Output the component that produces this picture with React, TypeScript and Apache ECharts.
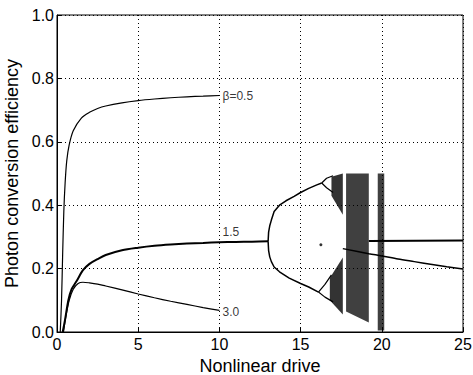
import React, { useEffect, useRef } from "react";
import * as echarts from "echarts";

// Curves [x, y]
const curveBeta05: number[][] = [
  [0.2, 0], [0.28, 0.1], [0.35, 0.25], [0.42, 0.38], [0.5, 0.47], [0.6, 0.54], [0.75, 0.59],
  [1.0, 0.635], [1.5, 0.675], [2, 0.693], [2.5, 0.705], [3, 0.713], [4, 0.723], [5, 0.73],
  [6, 0.735], [7, 0.739], [8, 0.742], [9, 0.744], [10, 0.746],
];
const curveBeta15: number[][] = [
  [0.35, 0], [0.5, 0.04], [0.7, 0.1], [0.9, 0.135], [1.2, 0.16], [1.6, 0.195], [2, 0.215],
  [2.5, 0.23], [3, 0.243], [4, 0.258], [5, 0.266], [6, 0.272], [7, 0.276], [8, 0.279],
  [9, 0.281], [10, 0.283], [11, 0.284], [12, 0.285], [13, 0.286],
];
const curveBeta30: number[][] = [
  [0.4, 0], [0.55, 0.05], [0.75, 0.1], [1.0, 0.135], [1.3, 0.153], [1.6, 0.157], [2, 0.155],
  [2.5, 0.151], [3, 0.145], [4, 0.133], [5, 0.12], [6, 0.108], [7, 0.097], [8, 0.087],
  [9, 0.077], [10, 0.068],
];
// Bifurcation branches
const upperBranch: number[][] = [
  [13.0, 0.286], [13.03, 0.315], [13.1, 0.335], [13.2, 0.353], [13.37, 0.38], [13.7, 0.4],
  [14.1, 0.414], [14.6, 0.428], [15, 0.44], [15.5, 0.453], [16, 0.464], [16.3, 0.47],
];
const lowerBranch: number[][] = [
  [13.0, 0.286], [13.03, 0.257], [13.1, 0.237], [13.2, 0.222], [13.37, 0.205], [13.7, 0.19],
  [14.3, 0.17], [15, 0.153], [15.5, 0.142], [16.1, 0.126],
];
const upperSplitA: number[][] = [[16.3, 0.47], [16.6, 0.485], [17.0, 0.493]];
const upperSplitB: number[][] = [[16.3, 0.47], [16.6, 0.455], [17.0, 0.44]];
const lowerSplitA: number[][] = [[16.1, 0.126], [16.5, 0.15], [16.9, 0.18]];
const lowerSplitB: number[][] = [[16.1, 0.126], [16.5, 0.11], [17.0, 0.095]];
const strayPoint: number[][] = [[16.25, 0.275]];
const fixedAfter: number[][] = [[19.2, 0.287], [25, 0.289]];
const slopedAfter: number[][] = [
  [17.6, 0.263], [19.2, 0.247], [20, 0.24], [21, 0.23], [22, 0.222], [23, 0.214], [24, 0.206], [25, 0.199],
];
// Chaotic bands (polygon outlines)
const bandUpperSmall: number[][] = [[16.9, 0.49], [17.6, 0.5], [17.6, 0.37], [16.9, 0.43]];
const bandLowerSmall: number[][] = [[16.8, 0.17], [17.6, 0.235], [17.6, 0.055], [16.8, 0.1]];
const bandBig: number[][] = [[17.8, 0.5], [19.2, 0.5], [19.2, 0.03], [17.8, 0.065]];
const bandTwenty: number[][] = [[19.75, 0.5], [20.15, 0.5], [20.15, 0.005], [19.75, 0.005]];

const labelPoints: number[][] = [[10.1, 0.745], [10.1, 0.315], [10.1, 0.063]];
const labelTexts: string[] = ["β=0.5", "1.5", "3.0"];

const FONT = "Liberation Sans, Arial, Helvetica, sans-serif";

function lineSeries(data: number[][], width: number, smooth: number | boolean = 0.3) {
  return {
    type: "line",
    data,
    showSymbol: false,
    symbol: "none",
    smooth,
    lineStyle: { color: "#000", width },
    silent: true,
    z: 4,
  };
}

function bandSeries(band: number[][], opacity: number) {
  return {
    type: "custom",
    data: band,
    encode: { x: 0, y: 1 },
    silent: true,
    z: 3,
    renderItem: (params: any, api: any) => {
      if (params.dataIndex !== 0) return null;
      return {
        type: "polygon",
        shape: { points: band.map((p) => api.coord(p)) },
        style: { fill: `rgba(0,0,0,${opacity})` },
      };
    },
  };
}

export default function App() {
  const ref = useRef<HTMLDivElement>(null);
  useEffect(() => {
    document.body.style.margin = "0";
    const chart = echarts.init(ref.current!, null, { renderer: "svg" });
    const option: any = {
      animation: false,
      backgroundColor: "#fff",
      grid: {
        left: 57, right: 10, top: 15, bottom: 43,
        outerBoundsMode: "none", containLabel: false,
        show: true, borderColor: "#000", borderWidth: 1, backgroundColor: "transparent",
      },
      xAxis: {
        type: "value",
        min: 0,
        max: 25,
        interval: 5,
        name: "Nonlinear drive",
        nameLocation: "middle",
        nameGap: 25,
        nameTextStyle: { color: "#000", fontSize: 18, fontFamily: FONT },
        axisLine: { show: true, lineStyle: { color: "#000", width: 1 } },
        axisTick: { show: true, inside: true, length: 4, lineStyle: { color: "#000" } },
        axisLabel: { color: "#000", fontSize: 16, fontFamily: FONT, margin: 4 },
        splitLine: { show: true, lineStyle: { color: "#000", width: 1, type: [1, 3] } },
      },
      yAxis: {
        type: "value",
        min: 0,
        max: 1,
        interval: 0.2,
        name: "Photon conversion efficiency",
        nameLocation: "middle",
        nameGap: 24,
        nameTextStyle: { color: "#000", fontSize: 18, fontFamily: FONT },
        axisLine: { show: true, lineStyle: { color: "#000", width: 1 } },
        axisTick: { show: true, inside: true, length: 4, lineStyle: { color: "#000" } },
        axisLabel: { color: "#000", fontSize: 16, fontFamily: FONT, margin: 3, formatter: (v: number) => v.toFixed(1) },
        splitLine: { show: true, lineStyle: { color: "#000", width: 1, type: [1, 3] } },
      },
      series: [
        lineSeries(curveBeta05, 1.2),
        lineSeries(curveBeta15, 2),
        lineSeries(curveBeta30, 1.2),
        lineSeries(upperBranch, 1.5, false),
        lineSeries(lowerBranch, 1.5, false),
        lineSeries(upperSplitA, 1.2, false),
        lineSeries(upperSplitB, 1.2, false),
        lineSeries(lowerSplitA, 1.2, false),
        lineSeries(lowerSplitB, 1.2, false),
        lineSeries(fixedAfter, 2, false),
        lineSeries(slopedAfter, 1.5),
        bandSeries(bandUpperSmall, 0.8),
        bandSeries(bandLowerSmall, 0.8),
        bandSeries(bandBig, 0.75),
        bandSeries(bandTwenty, 0.75),
        {
          type: "scatter",
          data: strayPoint,
          symbolSize: 3,
          itemStyle: { color: "#000" },
          silent: true,
        },
        {
          type: "scatter",
          data: labelPoints,
          symbolSize: 1,
          itemStyle: { color: "rgba(0,0,0,0)" },
          silent: true,
          label: {
            show: true,
            position: "right",
            distance: 1,
            color: "#000",
            fontSize: 12,
            fontFamily: FONT,
            formatter: (p: any) => labelTexts[p.dataIndex],
          },
        },
      ],
    };
    chart.setOption(option);
    return () => chart.dispose();
  }, []);
  return <div ref={ref} style={{ width: 473, height: 375 }} />;
}
